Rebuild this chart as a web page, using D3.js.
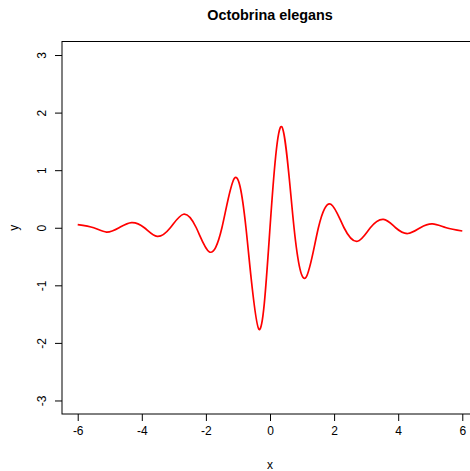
<!DOCTYPE html>
<html>
<head>
<meta charset="utf-8">
<script src="https://cdn.jsdelivr.net/npm/d3@7"></script>
<style>
  html, body { margin: 0; padding: 0; background: #fff; }
  svg text { font-family: "Liberation Sans", Arial, Helvetica, sans-serif; fill: #000; }
</style>
</head>
<body>
<svg id="chart" width="470" height="471"></svg>
<script>
// Curve samples: extrema and zero crossings of the damped wave
const xs = [-6.0, -5.5, -5.1, -4.71, -4.32, -3.92, -3.52, -3.11, -2.70, -2.30, -1.89, -1.50, -1.11, -0.75, -0.343,
            0.0, 0.365, 0.75, 1.12, 1.51, 1.90, 2.31, 2.73, 3.13, 3.54, 3.92, 4.30, 4.69, 5.07, 5.5, 6.0];
const ys = [0.055, 0.0, -0.075, 0.0, 0.09, 0.0, -0.15, 0.0, 0.235, 0.0, -0.42, 0.0, 0.86, 0.0, -1.765,
            0.0, 1.755, 0.0, -0.865, 0.0, 0.41, 0.0, -0.235, 0.0, 0.145, 0.0, -0.10, 0.0, 0.066, 0.0, -0.056];
const xTicks = [-6, -4, -2, 0, 2, 4, 6];
const yTicks = [-3, -2, -1, 0, 1, 2, 3];
const title = "Octobrina elegans";
const xLabel = "x";
const yLabel = "y";

const svg = d3.select("#chart");
const plotLeft = 62, plotRight = 478, plotTop = 41.5, plotBottom = 414;

const x = d3.scaleLinear().domain([-6.49, 6.49]).range([plotLeft, plotRight]);
const y = d3.scaleLinear().domain([-3.235, 3.235]).range([plotBottom, plotTop]);

// plot frame
svg.append("rect")
  .attr("x", plotLeft).attr("y", plotTop)
  .attr("width", plotRight - plotLeft).attr("height", plotBottom - plotTop)
  .attr("fill", "none").attr("stroke", "#000").attr("stroke-width", 1);

// x axis
const xAxis = d3.axisBottom(x).tickValues(xTicks).tickSize(7).tickPadding(5)
  .tickFormat(d => d < 0 ? "-" + Math.abs(d) : String(d));
const gx = svg.append("g").attr("transform", `translate(0,${plotBottom})`).call(xAxis);
gx.select(".domain").remove();
gx.selectAll("text").attr("font-size", 12).attr("font-family", "Liberation Sans, Arial, sans-serif");

// y axis with labels parallel to the axis
const yAxis = d3.axisLeft(y).tickValues(yTicks).tickSize(7).tickPadding(0)
  .tickFormat(d => d < 0 ? "-" + Math.abs(d) : String(d));
const gy = svg.append("g").attr("transform", `translate(${plotLeft},0)`).call(yAxis);
gy.select(".domain").remove();
gy.selectAll("text")
  .attr("font-size", 12).attr("font-family", "Liberation Sans, Arial, sans-serif")
  .attr("x", null).attr("dy", null)
  .attr("text-anchor", "middle")
  .attr("transform", "translate(-16,0) rotate(-90)");

// the curve
const line = d3.line()
  .x((d, i) => x(xs[i]))
  .y((d, i) => y(ys[i]))
  .curve(d3.curveNatural);
svg.append("path")
  .datum(xs)
  .attr("d", line)
  .attr("fill", "none")
  .attr("stroke", "#ff0000")
  .attr("stroke-width", 1.7);

// titles
svg.append("text").attr("x", (plotLeft + plotRight) / 2).attr("y", 19.5)
  .attr("text-anchor", "middle").attr("font-weight", "bold").attr("font-size", 14.4)
  .text(title);
svg.append("text").attr("x", (plotLeft + plotRight) / 2).attr("y", 469)
  .attr("text-anchor", "middle").attr("font-size", 12).text(xLabel);
svg.append("text").attr("transform", `translate(18,${(plotTop + plotBottom) / 2}) rotate(-90)`)
  .attr("text-anchor", "middle").attr("font-size", 12).text(yLabel);
</script>
</body>
</html>
